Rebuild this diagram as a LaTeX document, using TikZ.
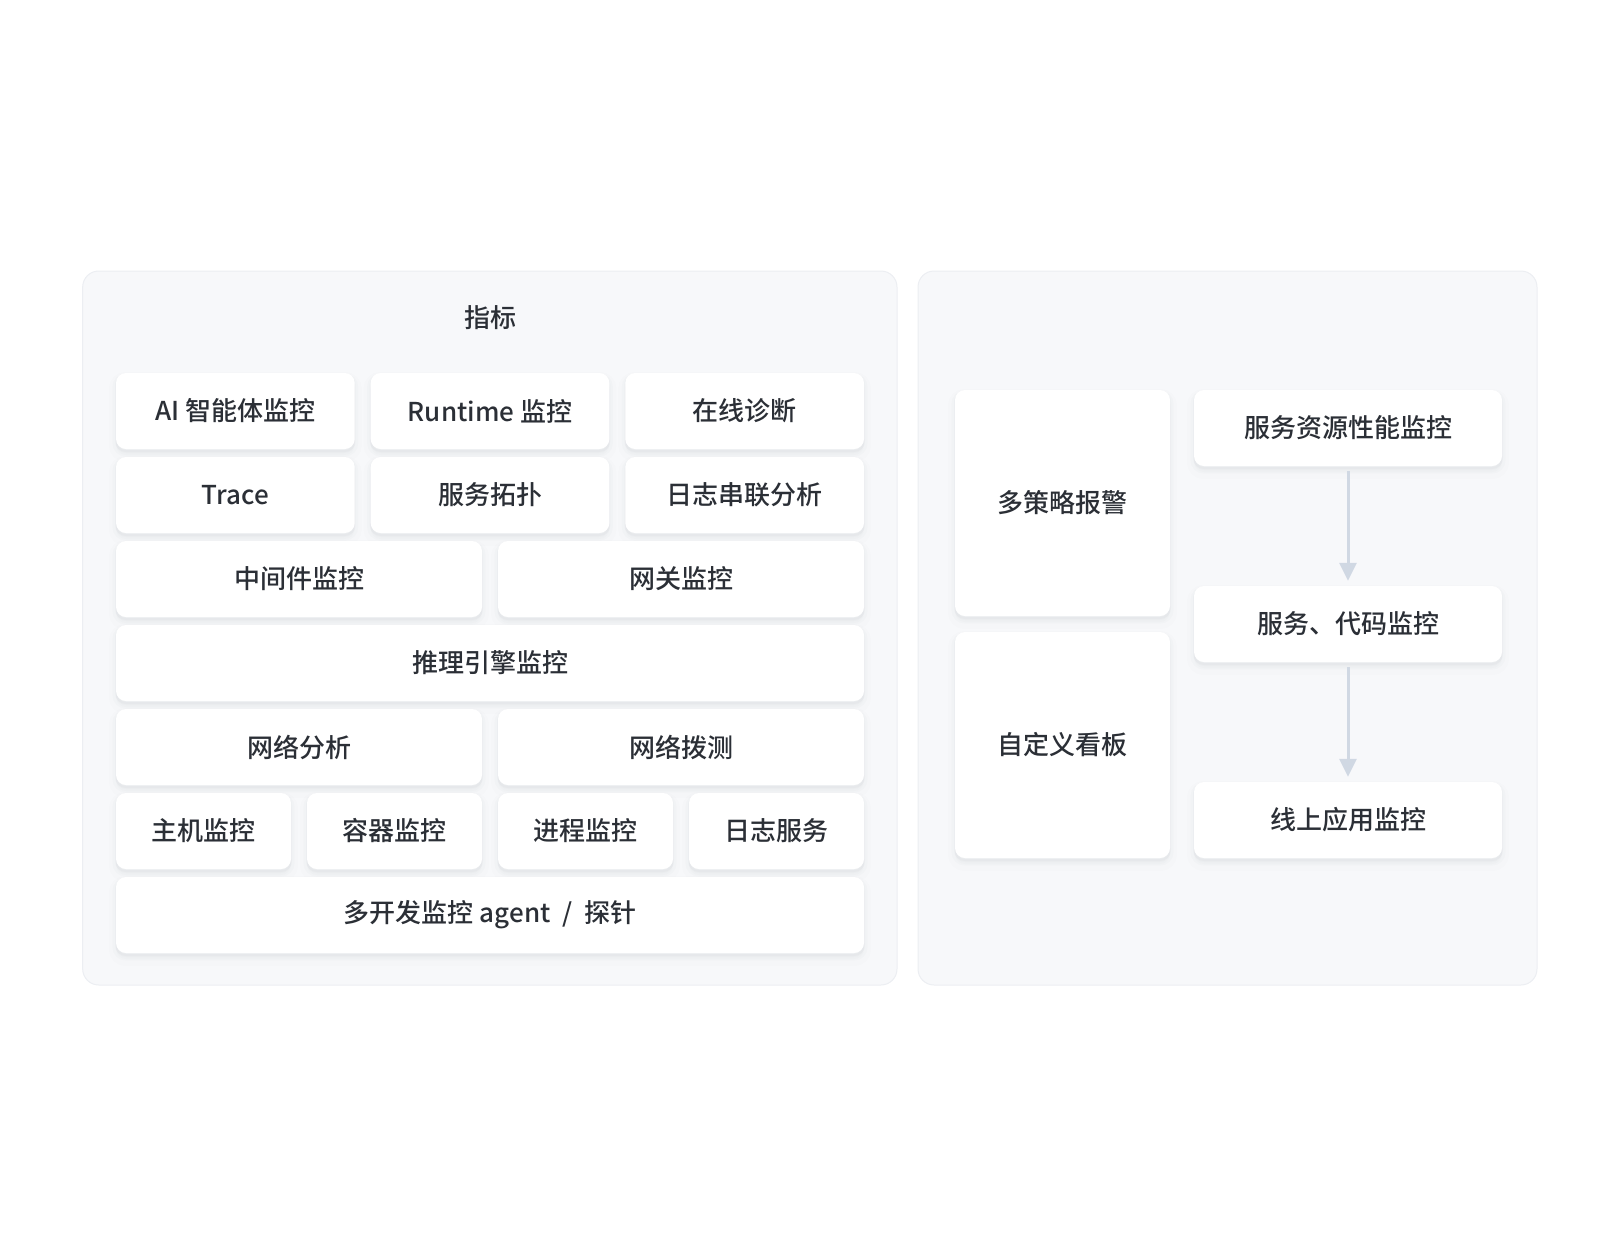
\documentclass[tikz,border=0pt]{standalone}
\usepackage{fontspec}
\setmainfont{Noto Sans CJK SC}[UprightFont=* Medium]
\usetikzlibrary{arrows.meta,shadows}
\definecolor{panelfill}{HTML}{F7F8FA}
\definecolor{paneledge}{HTML}{ECEEF2}
\definecolor{txt}{HTML}{2B2F36}
\definecolor{arrowc}{HTML}{D0D8E3}
\definecolor{shade}{HTML}{5A6478}
\tikzset{
  panel/.style={draw=paneledge, line width=1pt, fill=panelfill, rounded corners=16pt},
  box/.style={fill=white, rounded corners=10pt, inner sep=0pt, text=txt,
    font=\fontsize{26}{30}\selectfont,
    general shadow={draw=shade, line width=14pt, draw opacity=0.012, fill=shade, fill opacity=0.02, shadow yshift=-6pt},
    general shadow={draw=shade, line width=7pt, draw opacity=0.02, fill=shade, fill opacity=0.02, shadow yshift=-4pt},
    general shadow={draw=shade, line width=2pt, draw opacity=0.03, shadow yshift=-2pt}},
  titletext/.style={text=txt, font=\fontsize{26}{30}\selectfont, inner sep=0pt},
  flow/.style={draw=arrowc, line width=3pt, -{Triangle[width=17pt,length=18pt]}, shorten <=5pt, shorten >=5pt}
}
\begin{document}
\begin{tikzpicture}[x=1pt,y=-1pt]
\useasboundingbox (0,0) rectangle (1620,1256);
% panels
\path[panel] (82.7,271) rectangle (897,985);
\path[panel] (918,271) rectangle (1537,985);
\node[titletext] (title) at (490,318) {指标};
% row 1
\node[box, minimum width=238.7pt, minimum height=76pt] (ai) at (235.35,411) {AI 智能体监控};
\node[box, minimum width=238.7pt, minimum height=76pt] (rt) at (490,411) {Runtime 监控};
\node[box, minimum width=238.7pt, minimum height=76pt] (zx) at (744.65,411) {在线诊断};
% row 2
\node[box, minimum width=238.7pt, minimum height=76pt] (tr) at (235.35,495) {Trace};
\node[box, minimum width=238.7pt, minimum height=76pt] (tp) at (490,495) {服务拓扑};
\node[box, minimum width=238.7pt, minimum height=76pt] (rz) at (744.65,495) {日志串联分析};
% row 3
\node[box, minimum width=366pt, minimum height=76pt] (zj) at (299,579) {中间件监控};
\node[box, minimum width=366pt, minimum height=76pt] (wg) at (681,579) {网关监控};
% row 4
\node[box, minimum width=748pt, minimum height=76pt] (tl) at (490,663) {推理引擎监控};
% row 5
\node[box, minimum width=366pt, minimum height=76pt] (wl) at (299,747) {网络分析};
\node[box, minimum width=366pt, minimum height=76pt] (bc) at (681,747) {网络拨测};
% row 6
\node[box, minimum width=175pt, minimum height=76pt] (zh) at (203.5,831) {主机监控};
\node[box, minimum width=175pt, minimum height=76pt] (rq) at (394.5,831) {容器监控};
\node[box, minimum width=175pt, minimum height=76pt] (jc) at (585.5,831) {进程监控};
\node[box, minimum width=175pt, minimum height=76pt] (rf) at (776.5,831) {日志服务};
% row 7
\node[box, minimum width=748pt, minimum height=76pt] (ag) at (490,915) {多开发监控 agent\hspace{0.45em}/\hspace{0.45em}探针};
% right panel
\node[box, minimum width=215pt, minimum height=226pt] (bj) at (1062.5,503) {多策略报警};
\node[box, minimum width=215pt, minimum height=226pt] (kb) at (1062.5,745) {自定义看板};
\node[box, minimum width=308pt, minimum height=76pt] (s1) at (1348,428) {服务资源性能监控};
\node[box, minimum width=308pt, minimum height=76pt] (s2) at (1348,624) {服务、代码监控};
\node[box, minimum width=308pt, minimum height=76pt] (s3) at (1348,820) {线上应用监控};
\draw[flow] (s1) -- (s2);
\draw[flow] (s2) -- (s3);
\end{tikzpicture}
\end{document}
